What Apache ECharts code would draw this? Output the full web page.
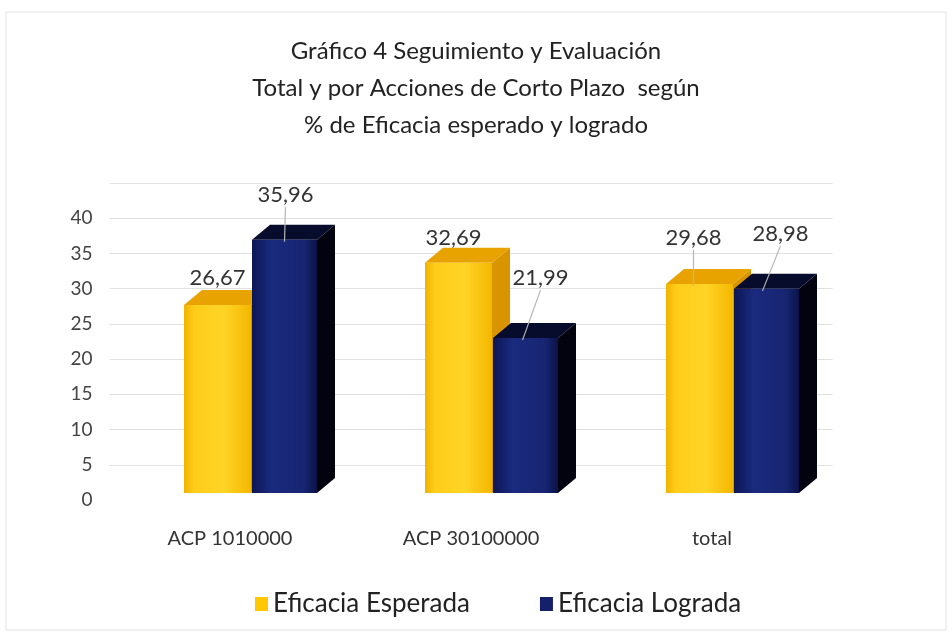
<!DOCTYPE html>
<html>
<head>
<meta charset="utf-8">
<script src="https://cdn.jsdelivr.net/npm/echarts@6/dist/echarts.min.js"></script>
<style>
html,body{margin:0;padding:0;background:#fff;}
#c{width:952px;height:636px;}
</style>
</head>
<body>
<div id="c"></div>
<script>
// ---- data ----
const categories = ['ACP 1010000', 'ACP 30100000', 'total'];
const esperada = [26.67, 32.69, 29.68];
const lograda = [35.96, 21.99, 28.98];
const seriesNames = ['Eficacia Esperada', 'Eficacia Lograda'];
const yTicks = [0, 5, 10, 15, 20, 25, 30, 35, 40];

// ---- styling / layout (pixels) ----
const FONT = 'Lato, "Noto Sans", sans-serif';
const LIFT = 7;          // front face raised above back-wall zero
const DX = 18, DY = -15; // 3D depth offset
const FRONT_OFF = [-46, 22];
const FRONT_W = [67, 65];
// per item label layout: [dx, dy, showLine, lineEndDx]
const LABEL_LAYOUT = [
  [[0, -27, 0, 0], [-5, -25, 0, 0], [-6, -46, 1, -6]],
  [[1, -45, 1, 0], [15, -60, 1, -3], [14, -55, 1, -4]]
];
const FACE = [
  {front: [['#F0B400', 0], ['#FFCC1A', 0.15], ['#FFD426', 0.6], ['#F4B700', 1]], top: '#E9A300', side: '#D99500', legend: '#FFC800'},
  {front: [['#0C1756', 0], ['#1A2A7E', 0.3], ['#172572', 0.8], ['#0B1348', 1]], top: '#070C2C', side: '#02030E', legend: '#14206A'}
];

function fmt(v) { return v.toFixed(2).replace('.', ','); }

function makeRender(s) {
  return function (params, api) {
    const idx = api.value(0);
    const v = api.value(1);
    const base = api.coord([idx, 0]);
    const top = api.coord([idx, v]);
    const cx = base[0];
    const y0 = base[1] - LIFT;
    const y1 = top[1] - LIFT;
    const x0 = cx + FRONT_OFF[s];
    const w = FRONT_W[s];
    const f = FACE[s];
    const children = [
      {type: 'polygon', shape: {points: [[x0 + w, y1], [x0 + w + DX, y1 + DY], [x0 + w + DX, y0 + DY], [x0 + w, y0]]}, style: {fill: f.side}},
      {type: 'polygon', shape: {points: [[x0, y1], [x0 + DX, y1 + DY], [x0 + w + DX, y1 + DY], [x0 + w, y1]]}, style: {fill: f.top}},
      {type: 'rect', shape: {x: x0, y: y1, width: w, height: y0 - y1},
        style: {fill: new echarts.graphic.LinearGradient(0, 0, 1, 0, f.front.map(c => ({offset: c[1], color: c[0]})))}}
    ];
    const L = LABEL_LAYOUT[s][params.dataIndex];
    const fcx = x0 + w / 2;
    const lx = fcx + L[0], ly = y1 + L[1];
    if (L[2]) {
      children.push({type: 'line', shape: {x1: lx, y1: ly + 12, x2: fcx + L[3], y2: y1 + 2}, style: {stroke: '#b5b5b5', lineWidth: 1.2}});
    }
    children.push({type: 'text', style: {text: fmt(v), x: lx, y: ly, align: 'center', verticalAlign: 'middle', fill: '#333', font: '22px ' + FONT}});
    return {type: 'group', children: children};
  };
}

const chart = echarts.init(document.getElementById('c'));
chart.setOption({
  backgroundColor: '#fff',
  animation: false,
  title: {
    text: 'Gráfico 4 Seguimiento y Evaluación\nTotal y por Acciones de Corto Plazo  según\n% de Eficacia esperado y logrado',
    left: 'center', top: 28,
    textStyle: {fontFamily: FONT, fontSize: 24, fontWeight: 'normal', color: '#222', lineHeight: 37}
  },
  legend: {
    data: seriesNames, left: 250, top: 586, icon: 'rect', itemWidth: 13, itemHeight: 14, itemGap: 70,
    textStyle: {fontFamily: FONT, fontSize: 26, color: '#222'}
  },
  graphic: [{type: 'rect', shape: {x: 6, y: 12, width: 940, height: 618}, style: {fill: 'none', stroke: '#e3e3e3', lineWidth: 1}, silent: true}],
  grid: {left: 109.5, right: 119.5, top: 183, bottom: 136},
  xAxis: {
    type: 'category', data: categories,
    axisLine: {show: false}, axisTick: {show: false},
    axisLabel: {fontFamily: FONT, fontSize: 20, color: '#333', margin: 29}
  },
  yAxis: {
    type: 'value', min: 0, max: 45, interval: 5,
    axisLine: {show: false}, axisTick: {show: false},
    axisLabel: {fontFamily: FONT, fontSize: 19, color: '#444', margin: 17, padding: [12, 0, 0, 0],
      formatter: v => (yTicks.indexOf(v) >= 0 ? String(v) : '')},
    splitLine: {show: true, showMinLine: false, lineStyle: {color: '#e0e0e0', width: 1}}
  },
  series: [
    {name: seriesNames[0], type: 'custom', itemStyle: {color: FACE[0].legend}, encode: {x: 0, y: 1},
      data: esperada.map((v, i) => [i, v]), renderItem: makeRender(0)},
    {name: seriesNames[1], type: 'custom', itemStyle: {color: FACE[1].legend}, encode: {x: 0, y: 1},
      data: lograda.map((v, i) => [i, v]), renderItem: makeRender(1)}
  ]
});
</script>
</body>
</html>
